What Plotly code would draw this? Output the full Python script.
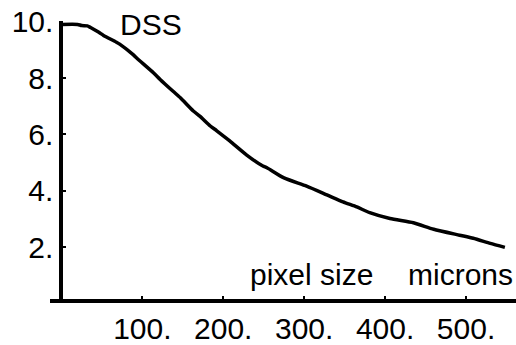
import plotly.graph_objects as go

# data
pixel_size = [0, 20, 25, 32, 36, 48, 52, 68, 72, 89, 93, 114, 122, 138, 147, 163, 171,
              184, 192, 208, 229, 249, 254, 275, 303, 328, 348, 365, 381, 406, 435,
              460, 492, 509, 530, 548]
dss = [9.90, 9.90, 9.86, 9.85, 9.79, 9.59, 9.51, 9.27, 9.20, 8.82, 8.71, 8.18, 7.95,
       7.53, 7.30, 6.83, 6.65, 6.30, 6.13, 5.77, 5.27, 4.88, 4.82, 4.46, 4.17, 3.86,
       3.61, 3.43, 3.23, 3.02, 2.87, 2.64, 2.43, 2.32, 2.14, 2.00]

x_ticks = [100, 200, 300, 400, 500]
x_tick_labels = ["100.", "200.", "300.", "400.", "500."]
y_ticks = [2, 4, 6, 8, 10]
y_tick_labels = ["2.", "4.", "6.", "8.", "10."]

FONT = "Liberation Sans, Arial, sans-serif"

fig = go.Figure()
fig.add_trace(go.Scatter(x=pixel_size, y=dss, mode="lines",
                         line=dict(color="black", width=3.5, shape="spline", smoothing=0.6),
                         hoverinfo="skip", showlegend=False))

fig.add_annotation(x=111, y=9.9, text="DSS", showarrow=False, xref="x", yref="y",
                   font=dict(family=FONT, size=30, color="black"), xanchor="center", yanchor="middle")
fig.add_annotation(x=309, y=1.04, text="pixel size", showarrow=False, xref="x", yref="y",
                   font=dict(family=FONT, size=30, color="black"), xanchor="center", yanchor="middle")
fig.add_annotation(x=493, y=1.04, text="microns", showarrow=False, xref="x", yref="y",
                   font=dict(family=FONT, size=30, color="black"), xanchor="center", yanchor="middle")

fig.update_layout(
    width=516, height=345,
    margin=dict(l=50, r=0, t=21, b=44, pad=0),
    paper_bgcolor="white", plot_bgcolor="white",
    showlegend=False,
    xaxis=dict(range=[-14.09, 561.75], showgrid=False, zeroline=False,
               showline=True, linecolor="black", linewidth=4,
               tickmode="array", tickvals=x_ticks, ticktext=x_tick_labels,
               ticks="inside", ticklen=3, tickwidth=2, tickcolor="black",
               tickfont=dict(family=FONT, size=30, color="black"),
               anchor="y", fixedrange=True),
    yaxis=dict(range=[0.169, 10.021], showgrid=False, zeroline=False,
               showline=True, linecolor="black", linewidth=4,
               anchor="free", position=0.02446,
               tickmode="array", tickvals=y_ticks, ticktext=y_tick_labels,
               ticks="inside", ticklen=3, tickwidth=2, tickcolor="black",
               tickfont=dict(family=FONT, size=30, color="black"),
               fixedrange=True),
)

fig.write_html("out.html")
